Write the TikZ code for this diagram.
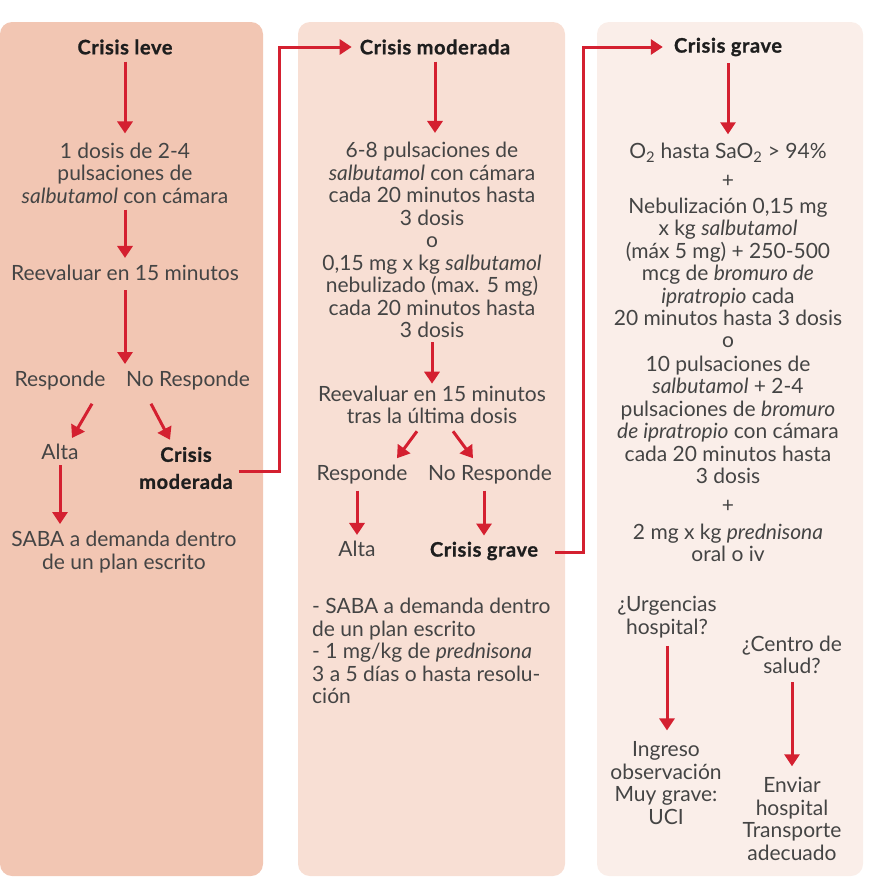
\documentclass[tikz,border=0pt]{standalone}
\usepackage{fontspec}
\setmainfont{Lato}
\newfontfamily\headfont[FakeBold=1,LetterSpace=3]{Lato}
\usetikzlibrary{arrows.meta,calc}
\definecolor{redc}{HTML}{D42030}
\definecolor{pA}{HTML}{F2C6B3}
\definecolor{pB}{HTML}{F8DFD4}
\definecolor{pC}{HTML}{FAEEE9}
\definecolor{txt}{HTML}{444444}
\definecolor{hd}{HTML}{1E1E1E}
\begin{document}
\begin{tikzpicture}[x=1pt,y=-1pt,
  t/.style={text=txt, align=center, font=\fontsize{21}{22.5}\selectfont, inner sep=1pt},
  h/.style={text=hd, align=center, font=\headfont\fontsize{20}{27}\selectfont\bfseries, inner sep=1pt},
  arr/.style={draw=redc, line width=3pt, -{Triangle[width=15pt,length=12pt]}},
  panelbox/.style={rounded corners=12pt}]
\useasboundingbox (0,0) rectangle (871,879);
\fill[pA, panelbox] (0,22) rectangle (263,876);
\fill[pB, panelbox] (298,22) rectangle (565,876);
\fill[pC, panelbox] (597,22) rectangle (863,876);

% Panel 1
\node[h] (leve) at (125,47) {Crisis leve};
\node[t] (dA) at (125,173) {1 dosis de 2-4\\pulsaciones de\\\emph{salbutamol} con cámara};
\node[t] (reA) at (125,273) {Reevaluar en 15 minutos};
\coordinate (jA) at (125,364);
\node[t] (rA) at (60,381) {Responde};
\node[t] (nrA) at (188,381) {No Responde};
\node[t] (altaA) at (60,452) {Alta};
\node[h] (cmA) at (186,468) {Crisis\\moderada};
\node[t] (sabaA) at (124,552) {SABA a demanda dentro\\de un plan escrito};

\draw[arr, shorten <=6pt, shorten >=8pt] (leve.south) -- (leve.south |- dA.north);
\draw[arr, shorten <=5pt, shorten >=6pt] (dA.south) -- (dA.south |- reA.north);
\draw[arr, shorten <=8pt] (reA.south) -- (jA);
\draw[arr] ($(rA.south)+(32,12)$) -- ($(altaA.north)+(12,-5)$);
\draw[arr] ($(nrA.south)+(-37,12)$) -- ($(cmA.north)+(-16,-6)$);
\draw[arr, shorten <=4pt, shorten >=6pt] (altaA.south) -- (altaA.south |- sabaA.north);

% Panel 2
\node[h] (cmB) at (435,47) {Crisis moderada};
\node[t] (tB) at (432,240) {6-8 pulsaciones de\\\emph{salbutamol} con cámara\\cada 20 minutos hasta\\3 dosis\\o\\0,15 mg x kg \emph{salbutamol}\\nebulizado (max. 5 mg)\\cada 20 minutos hasta\\3 dosis};
\node[t] (reB) at (432,405) {Reevaluar en 15 minutos\\tras la última dosis};
\node[t] (rB) at (362,475) {Responde};
\node[t] (nrB) at (490,475) {No Responde};
\node[t] (altaB) at (357,549) {Alta};
\node[h] (cgB) at (484,551) {Crisis grave};
\node[t, align=left, anchor=west] (bulB) at (311,651) {- SABA a demanda dentro\\de un plan escrito\\- 1 mg/kg de \emph{prednisona}\\3 a 5 días o hasta resolu-\\ción};

\draw[arr, shorten <=6pt, shorten >=8pt] (cmB.south) -- (cmB.south |- tB.north);
\draw[arr, shorten <=3pt, shorten >=1pt] (tB.south) -- (tB.south |- reB.north);
\draw[arr] ($(reB.south)+(-15,6)$) -- ($(rB.north)+(35,-6)$);
\draw[arr] ($(reB.south)+(21,6)$) -- ($(nrB.north)+(-17,-6)$);
\draw[arr, shorten <=5pt, shorten >=5pt] (rB.south -| altaB) -- (altaB.north);
\draw[arr, shorten <=5pt, shorten >=5pt] (nrB.south -| cgB) -- (cgB.north);

% Panel 3
\node[h] (cgC) at (728,47) {Crisis grave};
\node[t] (o2) at (728,153) {O\textsubscript{2} hasta SaO\textsubscript{2} > 94\%};
\node[t] (plA) at (728,181) {+};
\node[t] (neb) at (728,262) {Nebulización 0,15 mg\\x kg \emph{salbutamol}\\(máx 5 mg) + 250-500\\mcg de \emph{bromuro de}\\\emph{ipratropio} cada\\20 minutos hasta 3 dosis};
\node[t] (oC) at (728,342) {o};
\node[t] (pul) at (728,420) {10 pulsaciones de\\\emph{salbutamol} + 2-4\\pulsaciones de \emph{bromuro}\\\emph{de ipratropio} con cámara\\cada 20 minutos hasta\\3 dosis};
\node[t] (plB) at (728,506) {+};
\node[t] (pred) at (728,543) {2 mg x kg \emph{prednisona}\\oral o iv};
\node[t] (urg) at (667,617) {¿Urgencias\\hospital?};
\node[t] (cen) at (792,655) {¿Centro de\\salud?};
\node[t] (ing) at (666,783) {Ingreso\\observación\\Muy grave:\\UCI};
\node[t] (env) at (792,819) {Enviar\\hospital\\Transporte\\adecuado};

\draw[arr, shorten <=6pt, shorten >=8pt] (cgC.south) -- (cgC.south |- o2.north);
\draw[arr, shorten <=7pt, shorten >=10pt] (urg.south) -- (urg.south |- ing.north);
\draw[arr, shorten <=7pt, shorten >=10pt] (cen.south) -- (cen.south |- env.north);

% Cross-panel connectors
\coordinate (kA) at (279,471);
\coordinate (kB) at (583,552);
\draw[arr, shorten <=5pt, shorten >=7pt] (cmA.east |- kA) -- (kA) |- (cmB.west);
\draw[arr, shorten <=16pt, shorten >=10pt] (cgB.east |- kB) -- (kB) |- (cgC.west);
\end{tikzpicture}
\end{document}
